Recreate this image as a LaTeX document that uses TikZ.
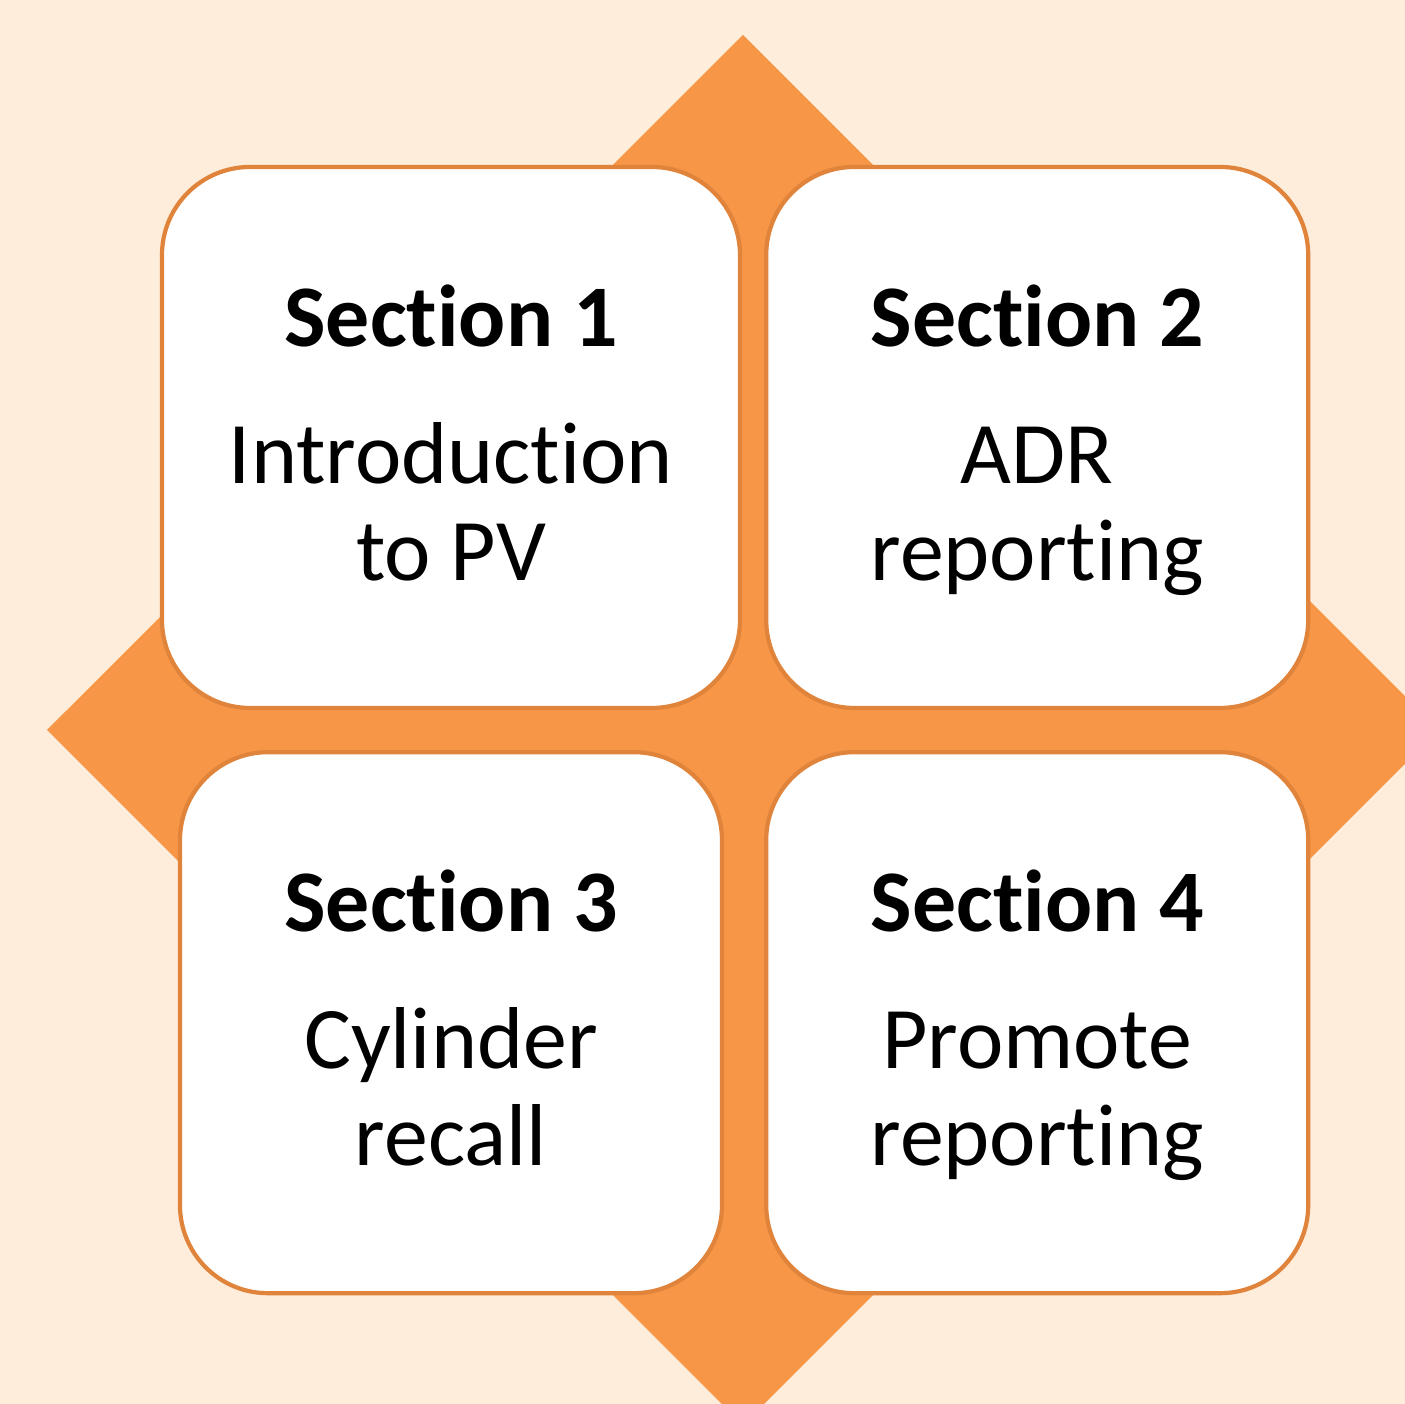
\documentclass[tikz,border=0pt]{standalone}
\usepackage{fontspec}
\setmainfont{Carlito}[Ligatures={NoCommon,NoContextual}, RawFeature={-calt;-clig;-liga}]
\usetikzlibrary{positioning}

\definecolor{bgcream}{HTML}{FDEDDA}
\definecolor{starfill}{HTML}{F79646}
\definecolor{boxline}{HTML}{E0843C}

% taller first line pushes the text block a bit lower in the box
\newcommand{\headstrut}{\rule{0pt}{23pt}}

\begin{document}
\begin{tikzpicture}[
    secbox/.style={draw=boxline, line width=1.2pt, fill=white, rectangle,
      rounded corners=0.88cm, minimum width=5.42cm, minimum height=5.41cm,
      align=center, font=\fontsize{25}{27.6}\selectfont}]
      \clip (0,0) rectangle (14.05,14.04);
      \fill[bgcream] (0,0) rectangle (14.05,14.04);
      \fill[starfill] (7.43,13.69) -- (14.39,6.74) -- (7.43,-0.21) -- (0.47,6.74) -- cycle;

      \node[secbox, minimum width=5.78cm] (s1) at (4.51,9.665)
        {\headstrut\textbf{Section 1}\\[11.5pt] Introduction\strut\\ to PV\strut};
      \node[secbox] (s2) [right=0.22cm of s1]
        {\headstrut\textbf{Section 2}\\[11.5pt] ADR\strut\\ reporting\strut};
      \node[secbox] (s3) [below=0.40cm of s1]
        {\headstrut\textbf{Section 3}\\[11.5pt] Cylinder\strut\\ recall\strut};
      \node[secbox] (s4) [below=0.40cm of s2]
        {\headstrut\textbf{Section 4}\\[11.5pt] Promote\strut\\ reporting\strut};
    \end{tikzpicture}
\end{document}
